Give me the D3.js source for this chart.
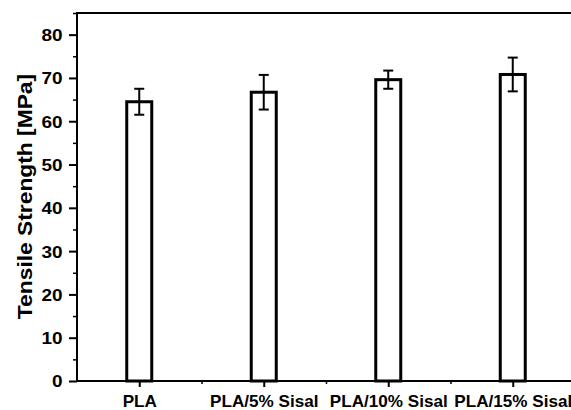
<!DOCTYPE html>
<html><head><meta charset="utf-8">
<script src="https://cdn.jsdelivr.net/npm/d3@7"></script>
<style>body{margin:0;background:#fff;} svg{display:block;}</style>
</head><body>
<svg id="c" width="571" height="410"></svg>
<script>
const categories = ["PLA", "PLA/5% Sisal", "PLA/10% Sisal", "PLA/15% Sisal"];
const values = [64.5, 66.7, 69.6, 70.8];
const errors = [3.0, 4.0, 2.1, 3.9];
const yTicks = [0, 10, 20, 30, 40, 50, 60, 70, 80];
const yMinor = [5, 15, 25, 35, 45, 55, 65, 75, 85];

(function () {
const svg = d3.select("#c");
const mL = 77, mR = 575, mT = 13, mB = 381;
const font = "'Liberation Sans', Arial, sans-serif";

const x = d3.scaleLinear().domain([0.5, categories.length + 0.5]).range([mL, mR]);
const y = d3.scaleLinear().domain([0, 85]).range([mB, mT]);
const barW = 25;

// bars
svg.selectAll("rect.bar").data(values).join("rect")
  .attr("x", (d, i) => x(i + 1) - barW / 2)
  .attr("y", d => y(d))
  .attr("width", barW)
  .attr("height", d => y(0) - y(d))
  .attr("fill", "#fff").attr("stroke", "#000").attr("stroke-width", 3);

// error bars
const eg = svg.append("g").attr("stroke", "#000").attr("stroke-width", 2);
values.forEach((v, i) => {
  const cx = x(i + 1);
  eg.append("line").attr("x1", cx).attr("x2", cx).attr("y1", y(v + errors[i])).attr("y2", y(v - errors[i]));
  eg.append("line").attr("x1", cx - 5).attr("x2", cx + 5).attr("y1", y(v + errors[i])).attr("y2", y(v + errors[i]));
  eg.append("line").attr("x1", cx - 5).attr("x2", cx + 5).attr("y1", y(v - errors[i])).attr("y2", y(v - errors[i]));
});

// Y axis
const ySx = 1.15;
const yAxis = d3.axisLeft(y).tickValues(yTicks).tickSize(8).tickPadding(6);
const yg = svg.append("g").attr("transform", `translate(${mL},0)`).call(yAxis);
yg.select(".domain").remove();
yg.selectAll(".tick line").attr("stroke", "#000").attr("stroke-width", 2);
yg.selectAll(".tick text").attr("font-family", font).attr("font-weight", "bold").attr("font-size", 16.5).attr("fill", "#000")
  .attr("x", -14.5 / ySx).attr("dy", "0.36em").attr("transform", `scale(${ySx},1)`);
const ym = d3.axisLeft(y).tickValues(yMinor).tickSize(4).tickFormat("");
const ymg = svg.append("g").attr("transform", `translate(${mL},0)`).call(ym);
ymg.select(".domain").remove();
ymg.selectAll(".tick line").attr("stroke", "#000").attr("stroke-width", 1.5);

// X axis
const xSx = 1.07;
const xAxis = d3.axisBottom(x).tickValues(d3.range(1, categories.length + 1)).tickSize(6).tickPadding(9)
  .tickFormat(d => categories[d - 1]);
const xg = svg.append("g").attr("transform", `translate(0,${mB})`).call(xAxis);
xg.select(".domain").remove();
xg.selectAll(".tick line").attr("stroke", "#000").attr("stroke-width", 2);
xg.selectAll(".tick text").attr("font-family", font).attr("font-weight", "bold").attr("font-size", 16).attr("fill", "#000")
  .attr("y", 26.5).attr("dy", 0).attr("transform", `scale(${xSx},1)`);
const xm = d3.axisBottom(x).tickValues(d3.range(1.5, categories.length, 1)).tickSize(3).tickFormat("");
const xmg = svg.append("g").attr("transform", `translate(0,${mB})`).call(xm);
xmg.select(".domain").remove();
xmg.selectAll(".tick line").attr("stroke", "#000").attr("stroke-width", 1.5);

// frame lines
svg.append("line").attr("x1", mL).attr("x2", mL).attr("y1", mT).attr("y2", mB).attr("stroke", "#000").attr("stroke-width", 2);
svg.append("line").attr("x1", mL - 1).attr("x2", 571).attr("y1", mB).attr("y2", mB).attr("stroke", "#000").attr("stroke-width", 2);
svg.append("line").attr("x1", mL - 1).attr("x2", 571).attr("y1", mT).attr("y2", mT).attr("stroke", "#000").attr("stroke-width", 2);

// Y title
svg.append("text")
  .attr("transform", `translate(32,196.5) rotate(-90) scale(1.14,1)`)
  .attr("text-anchor", "middle")
  .attr("font-family", font).attr("font-weight", "bold").attr("font-size", 20)
  .text("Tensile Strength [MPa]");
})();
</script>
</body></html>
